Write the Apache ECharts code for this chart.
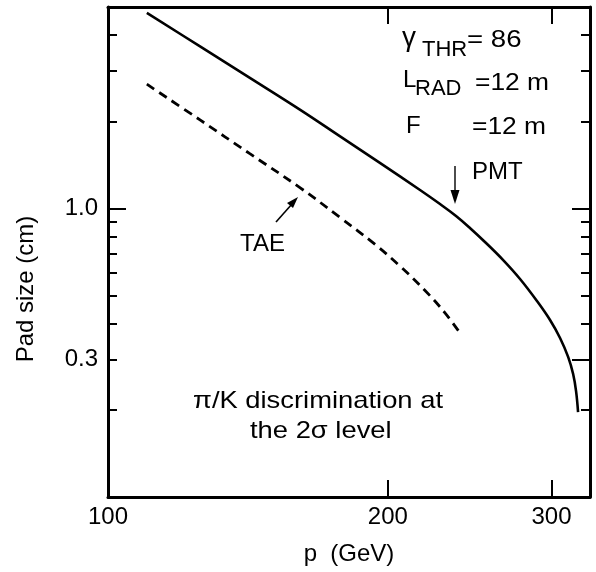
<!DOCTYPE html>
<html><head><meta charset="utf-8">
<script src="https://cdn.jsdelivr.net/npm/echarts@6/dist/echarts.min.js"></script>
<style>html,body{margin:0;padding:0;background:#fff}#c{width:596px;height:572px}</style>
</head><body><div id="c"></div>
<script>
// ---- data ----
const pmtP    = [110.1, 125.6, 142.1, 161.0, 177.7, 196.1, 216.6, 227.6, 236.8, 245.1, 254.4, 266.0, 277.5, 289.4, 298.9, 306.4, 312.6, 316.5, 318.8, 320.4];
const pmtSize = [4.77, 3.65, 2.84, 2.20, 1.78, 1.44, 1.16, 1.037, 0.943, 0.857, 0.766, 0.664, 0.570, 0.478, 0.411, 0.356, 0.306, 0.267, 0.233, 0.197];
const taeP    = [110.1, 125.6, 142.1, 161.0, 177.7, 193.8, 206.1, 219.3, 230.4, 239.2];
const taeSize = [2.70, 2.03, 1.55, 1.18, 0.931, 0.751, 0.632, 0.520, 0.435, 0.370];
const xTickLabels = [100, 200, 300];
const xTicks = [200, 300];
const yTickLabels = [0.3, 1.0];
const yMajorLeft = [1];
const yMinorLeft = [0.2, 0.3, 0.4, 0.5, 0.6, 0.7, 0.8, 0.9, 2, 3, 4, 5];
const yMajorRight = [0.3, 1];
const yMinorRight = [0.2, 0.4, 0.5, 0.6, 0.7, 0.8, 0.9, 2, 3, 4, 5];

const FONT = '"Liberation Sans", Arial, Helvetica, sans-serif';
const chart = echarts.init(document.getElementById('c'));

function xAx(pos, labels) {
  return {
    type: 'log', logBase: 10, min: 100, max: 330, position: pos,
    axisLine: {show: true, onZero: false, lineStyle: {color: '#000', width: 3}},
    axisTick: {show: true, inside: true, length: 17, customValues: xTicks, lineStyle: {color: '#000', width: 2}},
    axisLabel: labels ? {show: true, customValues: xTickLabels, margin: 8, color: '#000', fontSize: 24, fontFamily: FONT,
                 formatter: v => String(Math.round(v))} : {show: false},
    splitLine: {show: false}, minorTick: {show: false},
    name: labels ? 'p  (GeV)' : '', nameLocation: 'middle', nameGap: 45,
    nameTextStyle: {color: '#000', fontSize: 24, fontFamily: FONT}
  };
}
function yAx(pos, ticks, len, showLine, labels, name) {
  return {
    type: 'log', logBase: 10, min: 0.1, max: 5, position: pos,
    axisLine: {show: showLine, onZero: false, lineStyle: {color: '#000', width: 3}},
    axisTick: {show: true, inside: true, length: len, customValues: ticks, lineStyle: {color: '#000', width: 2}},
    axisLabel: labels ? {show: true, customValues: yTickLabels, margin: 10, color: '#000', fontSize: 24, fontFamily: FONT,
                 formatter: v => Number(v).toFixed(1)} : {show: false},
    splitLine: {show: false}, minorTick: {show: false},
    name: name || '', nameLocation: 'middle', nameGap: 70, nameRotate: 90,
    nameTextStyle: {color: '#000', fontSize: 24, fontFamily: FONT, padding: [0, 74, 0, 0]}
  };
}

function txt(text, x, y, size, sx) {
  return {type: 'text', x: x, y: y, scaleX: sx || 1, silent: true,
    style: {text: text, x: 0, y: 0, fill: '#000', font: size + 'px ' + FONT,
            align: 'left', verticalAlign: 'middle', textAlign: 'left', textVerticalAlign: 'middle'}};
}

const option = {
  animation: false,
  backgroundColor: '#fff',
  grid: {left: 108, top: 7, width: 482, height: 490, containLabel: false},
  xAxis: [xAx('bottom', true), xAx('top', false)],
  yAxis: [
    yAx('left', yMajorLeft, 18, true, true, 'Pad size (cm)'),
    yAx('left', yMinorLeft, 9, false, false),
    yAx('right', yMajorRight, 18, true, false),
    yAx('right', yMinorRight, 9, false, false)
  ],
  series: [
    {type: 'line', name: 'PMT', xAxisIndex: 0, yAxisIndex: 0, showSymbol: false, smooth: 0.4,
     data: pmtP.map((p, i) => [p, pmtSize[i]]),
     lineStyle: {color: '#000', width: 2.6}},
    {type: 'line', name: 'TAE', xAxisIndex: 0, yAxisIndex: 0, showSymbol: false, smooth: 0.4,
     data: taeP.map((p, i) => [p, taeSize[i]]),
     lineStyle: {color: '#000', width: 2.8, type: [9, 6]}}
  ],
  graphic: [
    txt('γ', 402, 38, 28),
    txt('THR', 422, 50, 22),
    txt('= 86', 467, 40, 24, 1.15),
    txt('L', 403, 80, 24),
    txt('RAD', 415, 89, 22),
    txt('=12 m', 475, 83, 24, 1.1),
    txt('F', 406, 126, 24),
    txt('=12 m', 472, 127, 24, 1.1),
    txt('PMT', 472, 172, 24),
    txt('TAE', 240, 244, 24),
    txt('π/K discrimination at', 193, 401, 24, 1.14),
    txt('the 2σ level', 250, 431, 24, 1.14),
    {type: 'line', silent: true, shape: {x1: 276, y1: 222, x2: 292, y2: 204}, style: {stroke: '#000', lineWidth: 1.6}},
    {type: 'polygon', silent: true, shape: {points: [[298, 197], [287, 203], [293, 208]]}, style: {fill: '#000'}},
    {type: 'line', silent: true, shape: {x1: 455, y1: 166, x2: 455, y2: 194}, style: {stroke: '#000', lineWidth: 1.4}},
    {type: 'polygon', silent: true, shape: {points: [[455, 204], [450.5, 190], [459.5, 190]]}, style: {fill: '#000'}}
  ]
};
chart.setOption(option);
</script>
</body></html>
